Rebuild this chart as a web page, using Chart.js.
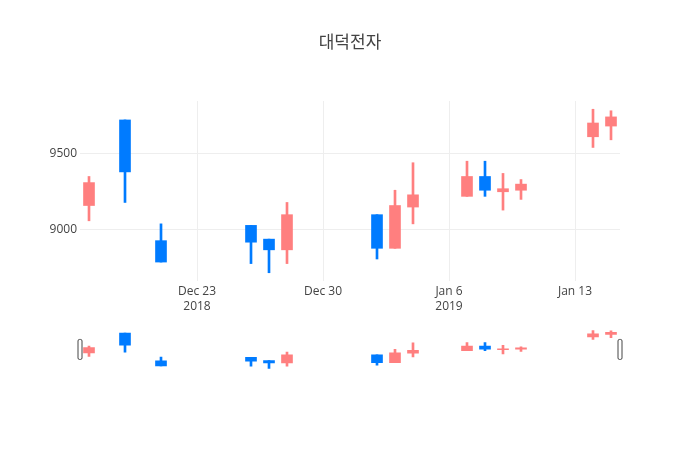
<!DOCTYPE html>
<html>
<head>
<meta charset="utf-8">
<script src="https://cdn.jsdelivr.net/npm/chart.js@4/dist/chart.umd.min.js"></script>
<style>
  html, body { margin: 0; padding: 0; background: #fff; }
  #wrap { position: relative; width: 700px; height: 450px; }
  canvas { position: absolute; left: 0; top: 0; }
</style>
</head>
<body>
<div id="wrap">
  <canvas id="main" width="700" height="450"></canvas>
  <canvas id="slider" width="700" height="450"></canvas>
</div>
<script>
const titleText = '대덕전자';
const dates = ['2018-12-17','2018-12-19','2018-12-21','2018-12-26','2018-12-27','2018-12-28',
               '2019-01-02','2019-01-03','2019-01-04','2019-01-07','2019-01-08','2019-01-09',
               '2019-01-10','2019-01-14','2019-01-15'];
const openVals  = [9160, 9720, 8930, 9030, 8940, 8870, 9100, 8880, 9150, 9220, 9350, 9250, 9260, 9610, 9680];
const highVals  = [9350, 9720, 9040, 9030, 8940, 9180, 9100, 9260, 9440, 9450, 9450, 9370, 9330, 9790, 9780];
const lowVals   = [9060, 9180, 8790, 8780, 8720, 8780, 8810, 8880, 9040, 9220, 9220, 9130, 9200, 9540, 9590];
const closeVals = [9310, 9380, 8790, 8920, 8870, 9100, 8880, 9160, 9230, 9350, 9260, 9270, 9300, 9700, 9740];
const xTickDates = ['2018-12-23','2018-12-30','2019-01-06','2019-01-13'];
const xTickLabels = [['Dec 23','2018'], 'Dec 30', ['Jan 6','2019'], 'Jan 13'];
const yTicks = [9000, 9500];
const yTickLabels = ['9000', '9500'];
const xRangeDates = ['2018-12-16T12:00', '2019-01-15T12:00'];
const yRange = [8666, 9844];

const UP = '#ff7f7f', DOWN = '#007bff';
const FONT = "'Open Sans', 'Noto Sans CJK KR', sans-serif";

function dayNum(s) {
  const [d, t] = s.split('T');
  const [y, m, dd] = d.split('-').map(Number);
  let v = Date.UTC(y, m - 1, dd) / 86400000;
  if (t) { const [h, mi] = t.split(':').map(Number); v += (h + mi / 60) / 24; }
  return v;
}
const base = dayNum('2018-12-23');
const xs = dates.map(d => dayNum(d) - base);
const colors = openVals.map((o, i) => closeVals[i] >= o ? UP : DOWN);
const xMin = dayNum(xRangeDates[0]) - base, xMax = dayNum(xRangeDates[1]) - base;
const tickXs = xTickDates.map(d => dayNum(d) - base);

function makeDatasets() {
  return [
    { data: xs.map((x, i) => ({ x, y: [lowVals[i], highVals[i]] })),
      backgroundColor: colors, borderWidth: 0, barThickness: 2, grouped: false, order: 2 },
    { data: xs.map((x, i) => ({ x, y: [openVals[i], closeVals[i]] })),
      backgroundColor: colors, borderWidth: 0, barThickness: 11, grouped: false, order: 1 }
  ];
}

new Chart(document.getElementById('main'), {
  type: 'bar',
  data: { datasets: makeDatasets() },
  options: {
    responsive: false, animation: false,
    layout: { padding: 0 },
    plugins: {
      legend: { display: false }, tooltip: { enabled: false },
      title: { display: true, text: titleText, color: '#444',
               font: { family: FONT, size: 17, weight: 'normal' },
               padding: { top: 33, bottom: 47.6 } }
    },
    scales: {
      x: {
        type: 'linear', min: xMin, max: xMax, offset: false,
        afterBuildTicks: s => { s.ticks = tickXs.map(v => ({ value: v })); },
        afterFit: s => { s.height = 169; },
        ticks: { color: '#444', font: { family: FONT, size: 12, lineHeight: 1.25 }, padding: 3,
                 maxRotation: 0, autoSkip: false,
                 callback: (v) => { const i = tickXs.indexOf(v); return i >= 0 ? xTickLabels[i] : ''; } },
        grid: { color: '#eee', drawTicks: false, lineWidth: 1, offset: false },
        border: { display: false }
      },
      y: {
        type: 'linear', position: 'left', min: yRange[0], max: yRange[1],
        afterBuildTicks: s => { s.ticks = yTicks.map(v => ({ value: v })); },
        afterFit: s => { s.width = 80; },
        ticks: { color: '#444', font: { family: FONT, size: 12 }, padding: 3,
                 callback: (v) => { const i = yTicks.indexOf(v); return i >= 0 ? yTickLabels[i] : ''; } },
        grid: { color: '#eee', drawTicks: false, lineWidth: 1 },
        border: { display: false }
      },
      yPad: {
        type: 'linear', position: 'right', min: yRange[0], max: yRange[1],
        afterFit: s => { s.width = 80; },
        ticks: { display: false },
        grid: { display: false, drawTicks: false },
        border: { display: false }
      }
    }
  }
});

const handles = {
  id: 'handles',
  afterDraw(chart) {
    const { ctx, chartArea } = chart;
    const cy = (chartArea.top + chartArea.bottom) / 2;
    ctx.save();
    ctx.fillStyle = '#fff'; ctx.strokeStyle = '#444'; ctx.lineWidth = 1;
    [chartArea.left, chartArea.right].forEach(x => {
      ctx.beginPath();
      ctx.roundRect(x - 2, cy - 10, 4, 20, 1.5);
      ctx.fill(); ctx.stroke();
    });
    ctx.restore();
  }
};

new Chart(document.getElementById('slider'), {
  type: 'bar',
  data: { datasets: makeDatasets() },
  plugins: [handles],
  options: {
    responsive: false, animation: false,
    layout: { padding: { left: 80, right: 80, top: 328.7, bottom: 79.8 } },
    plugins: { legend: { display: false }, tooltip: { enabled: false }, title: { display: false } },
    scales: {
      x: { type: 'linear', min: xMin, max: xMax, offset: false, display: false },
      y: { type: 'linear', min: yRange[0], max: yRange[1], display: false }
    }
  }
});
</script>
</body>
</html>
